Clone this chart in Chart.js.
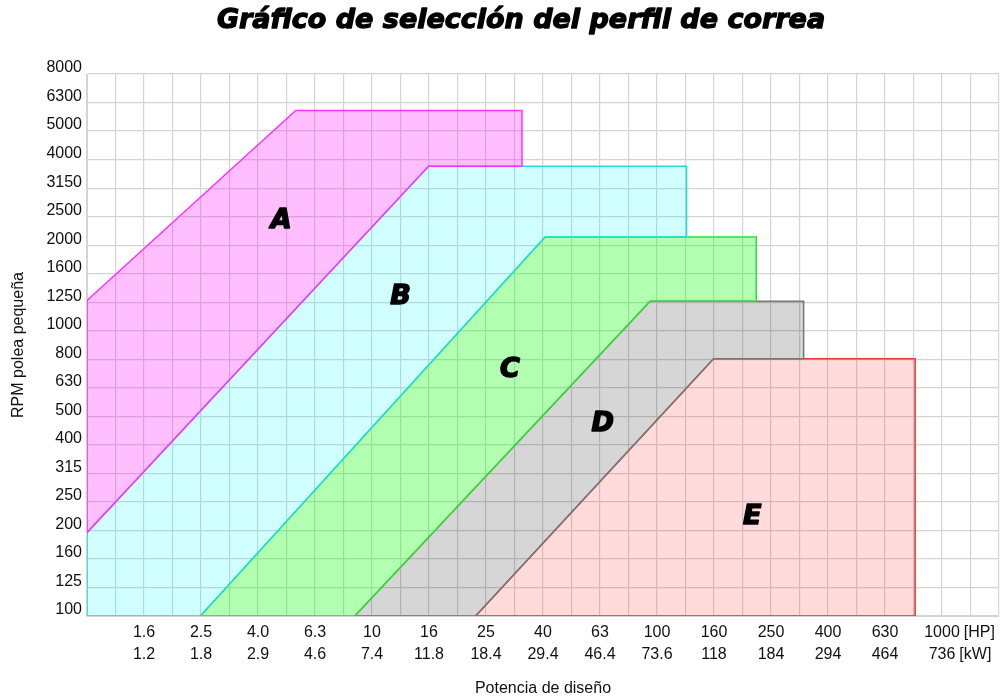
<!DOCTYPE html>
<html>
<head>
<meta charset="utf-8">
<script src="https://cdn.jsdelivr.net/npm/chart.js@4.4.1/dist/chart.umd.min.js"></script>
<style>
  html, body { margin: 0; padding: 0; background: #fff; }
  #wrap { width: 1005px; height: 699px; }
</style>
</head>
<body>
<div id="wrap"><canvas id="chart"></canvas></div>
<script>
const TITLE = 'Gráfico de selección del perfil de correa';
const X_TITLE = 'Potencia de diseño';
const Y_TITLE = 'RPM polea pequeña';

// x axis: design power, R5 steps, grid every half step
const HP_LABELS = ['1.6', '2.5', '4.0', '6.3', '10', '16', '25', '40', '63', '100', '160', '250', '400', '630', '1000'];
const KW_LABELS = ['1.2', '1.8', '2.9', '4.6', '7.4', '11.8', '18.4', '29.4', '46.4', '73.6', '118', '184', '294', '464', '736'];
const UNIT_LABELS = ['[HP]', '[kW]'];
// y axis: small pulley rpm, R10 steps
const RPM_LABELS = ['100', '125', '160', '200', '250', '315', '400', '500', '630', '800', '1000',
  '1250', '1600', '2000', '2500', '3150', '4000', '5000', '6300', '8000'];

// belt profile areas, [HP, rpm] corners
const PROFILES = ['A', 'B', 'C', 'D', 'E'];
const areaA = [[1, 196], [15.8, 3770], [33.6, 3770], [33.6, 5920], [5.4, 5920], [1, 1276], [1, 196]];
const areaB = [[1, 100], [1, 196], [15.8, 3770], [127, 3770], [127, 2133], [40.5, 2133], [2.5, 100], [1, 100]];
const areaC = [[2.5, 100], [40.5, 2133], [223, 2133], [223, 1268], [94.6, 1268], [8.7, 100], [2.5, 100]];
const areaD = [[8.7, 100], [94.6, 1268], [327, 1268], [327, 798], [158, 798], [23.1, 100], [8.7, 100]];
const areaE = [[23.1, 100], [158, 798], [805, 798], [805, 100], [23.1, 100]];
// where the profile letters sit, [HP, rpm]
const LETTER_POS = [[4.8, 2420], [12.6, 1310], [30.5, 730], [64.5, 472], [216, 222]];

const X_MIN = 1, X_MAX = Math.pow(10, 3.2);
const Y_MIN = 100, Y_MAX = 100 * Math.pow(10, 1.9);

const TICK_FONT = { family: 'Liberation Sans', size: 16, lineHeight: 1.375 };
const X_PAD = 6;

function toPts(arr) { return arr.map(p => ({ x: p[0], y: p[1] })); }

function heavyText(ctx, txt, x, y, w) {
  ctx.lineWidth = w;
  ctx.lineJoin = 'round';
  ctx.strokeText(txt, x, y);
  ctx.fillText(txt, x, y);
}

const labelsPlugin = {
  id: 'profileLabels',
  afterDatasetsDraw(chart) {
    const { ctx, scales: { x, y } } = chart;
    ctx.save();
    ctx.fillStyle = '#000';
    ctx.strokeStyle = '#000';
    ctx.textAlign = 'center';
    ctx.textBaseline = 'middle';
    ctx.font = 'italic bold 27px "DejaVu Sans"';
    PROFILES.forEach((name, i) => {
      heavyText(ctx, name, x.getPixelForValue(LETTER_POS[i][0]), y.getPixelForValue(LETTER_POS[i][1]), 1.6);
    });
    // title
    heavyText(ctx, TITLE, 521, 21, 1.3);
    // units after the last power label
    ctx.fillStyle = '#111';
    ctx.font = '16px "Liberation Sans"';
    ctx.textAlign = 'left';
    const px = x.getPixelForValue(1000);
    const lh = TICK_FONT.size * TICK_FONT.lineHeight;
    const rows = [HP_LABELS[HP_LABELS.length - 1], KW_LABELS[KW_LABELS.length - 1]];
    rows.forEach((txt, i) => {
      const w = ctx.measureText(txt).width;
      ctx.fillText(UNIT_LABELS[i], px + w / 2 + 4, x.top + X_PAD + lh / 2 + i * lh);
    });
    ctx.restore();
  }
};

function profileSet(pts, line, fill) {
  return {
    data: toPts(pts),
    borderColor: line,
    backgroundColor: fill,
    borderWidth: 1.5,
    fill: 'shape',
    pointRadius: 0,
    tension: 0
  };
}

new Chart(document.getElementById('chart'), {
  type: 'line',
  data: {
    datasets: [
      profileSet(areaA, '#ff33ff', 'rgba(255, 0, 255, 0.25)'),
      profileSet(areaB, '#22dddd', 'rgba(0, 255, 255, 0.18)'),
      profileSet(areaC, '#33dd33', 'rgba(0, 255, 0, 0.3)'),
      profileSet(areaD, '#777777', 'rgba(0, 0, 0, 0.16)'),
      profileSet(areaE, '#e03a3a', 'rgba(255, 0, 0, 0.14)')
    ]
  },
  options: {
    responsive: true,
    maintainAspectRatio: false,
    animation: false,
    events: [],
    layout: { padding: { top: 74, right: 6, left: 0, bottom: 0 } },
    plugins: {
      legend: { display: false },
      tooltip: { enabled: false },
      title: { display: false }
    },
    scales: {
      x: {
        type: 'logarithmic',
        min: X_MIN,
        max: X_MAX,
        afterBuildTicks: s => {
          const t = [];
          for (let k = 0; k <= 32; k++) t.push({ value: Math.pow(10, k / 10) });
          s.ticks = t;
        },
        afterFit: s => { s.height = 83; },
        grid: { color: '#d4d4d4', lineWidth: 1.2, drawTicks: false },
        border: { color: '#d4d4d4' },
        ticks: {
          autoSkip: false,
          maxRotation: 0,
          padding: X_PAD,
          color: '#111',
          font: TICK_FONT,
          callback: (v, i) => {
            if (i % 2 === 0 && i >= 2 && i <= 30) {
              const n = i / 2 - 1;
              return [HP_LABELS[n], KW_LABELS[n]];
            }
            return '';
          }
        },
        title: {
          display: true,
          text: X_TITLE,
          color: '#111',
          font: { family: 'Liberation Sans', size: 16 },
          padding: { top: 0, bottom: 1 }
        }
      },
      y: {
        type: 'logarithmic',
        min: Y_MIN,
        max: Y_MAX,
        afterBuildTicks: s => {
          const t = [];
          for (let k = 0; k <= 19; k++) t.push({ value: 100 * Math.pow(10, k / 10) });
          s.ticks = t;
        },
        afterFit: s => { s.width = 87; },
        grid: { color: '#d4d4d4', lineWidth: 1.2, drawTicks: false },
        border: { color: '#d4d4d4' },
        ticks: {
          autoSkip: false,
          padding: 5,
          labelOffset: -6,
          color: '#111',
          font: TICK_FONT,
          callback: (v, i) => RPM_LABELS[i]
        },
        title: {
          display: true,
          text: Y_TITLE,
          color: '#111',
          font: { family: 'Liberation Sans', size: 16 },
          padding: { top: 9, bottom: 0 }
        }
      }
    }
  },
  plugins: [labelsPlugin]
});
</script>
</body>
</html>
